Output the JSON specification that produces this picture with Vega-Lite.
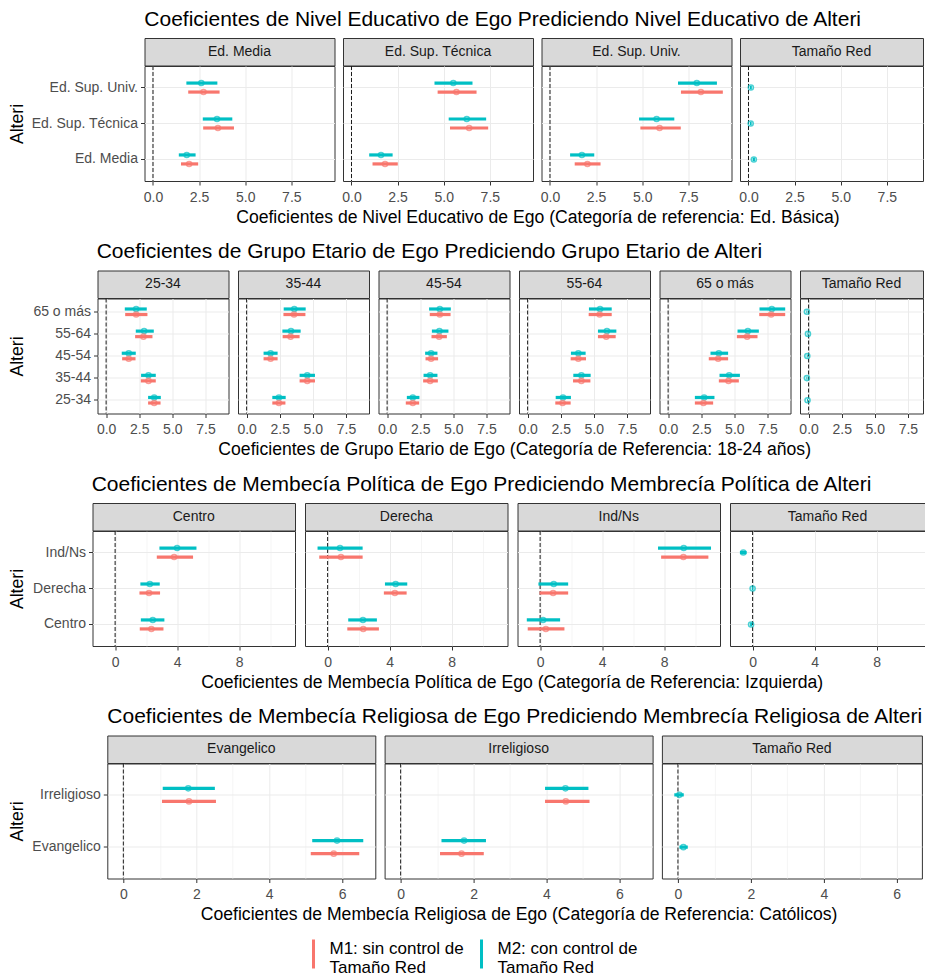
{
"$schema": "https://vega.github.io/schema/vega-lite/v6.json",
"padding": {"left": 5, "top": 8, "right": 0, "bottom": 0},
"autosize": {"type": "pad"},
"columns": 1,
"spacing": 13.5,
"resolve": {"scale": {"yOffset": "independent"}},
"datasets": {
"zero": [{"ref": 0}],
"none": [],
"s1": [
{"panel":"Ed. Media","alteri":"Ed. Sup. Univ.","model":"M2","lo":1.81,"est":2.62,"hi":3.49},
{"panel":"Ed. Media","alteri":"Ed. Sup. Univ.","model":"M1","lo":1.91,"est":2.74,"hi":3.61},
{"panel":"Ed. Media","alteri":"Ed. Sup. Técnica","model":"M2","lo":2.70,"est":3.47,"hi":4.30},
{"panel":"Ed. Media","alteri":"Ed. Sup. Técnica","model":"M1","lo":2.72,"est":3.52,"hi":4.39},
{"panel":"Ed. Media","alteri":"Ed. Media","model":"M2","lo":1.40,"est":1.83,"hi":2.31},
{"panel":"Ed. Media","alteri":"Ed. Media","model":"M1","lo":1.52,"est":1.96,"hi":2.45},
{"panel":"Ed. Sup. Técnica","alteri":"Ed. Sup. Univ.","model":"M2","lo":4.50,"est":5.52,"hi":6.56},
{"panel":"Ed. Sup. Técnica","alteri":"Ed. Sup. Univ.","model":"M1","lo":4.67,"est":5.69,"hi":6.78},
{"panel":"Ed. Sup. Técnica","alteri":"Ed. Sup. Técnica","model":"M2","lo":5.27,"est":6.25,"hi":7.30},
{"panel":"Ed. Sup. Técnica","alteri":"Ed. Sup. Técnica","model":"M1","lo":5.34,"est":6.38,"hi":7.41},
{"panel":"Ed. Sup. Técnica","alteri":"Ed. Media","model":"M2","lo":0.96,"est":1.60,"hi":2.23},
{"panel":"Ed. Sup. Técnica","alteri":"Ed. Media","model":"M1","lo":1.14,"est":1.82,"hi":2.51},
{"panel":"Ed. Sup. Univ.","alteri":"Ed. Sup. Univ.","model":"M2","lo":6.94,"est":7.96,"hi":9.05},
{"panel":"Ed. Sup. Univ.","alteri":"Ed. Sup. Univ.","model":"M1","lo":7.10,"est":8.18,"hi":9.37},
{"panel":"Ed. Sup. Univ.","alteri":"Ed. Sup. Técnica","model":"M2","lo":4.83,"est":5.78,"hi":6.74},
{"panel":"Ed. Sup. Univ.","alteri":"Ed. Sup. Técnica","model":"M1","lo":4.90,"est":5.94,"hi":7.09},
{"panel":"Ed. Sup. Univ.","alteri":"Ed. Media","model":"M2","lo":1.09,"est":1.73,"hi":2.40},
{"panel":"Ed. Sup. Univ.","alteri":"Ed. Media","model":"M1","lo":1.34,"est":2.03,"hi":2.74},
{"panel":"Tamaño Red","alteri":"Ed. Sup. Univ.","model":"M2","lo":0.08,"est":0.13,"hi":0.18},
{"panel":"Tamaño Red","alteri":"Ed. Sup. Técnica","model":"M2","lo":0.08,"est":0.12,"hi":0.17},
{"panel":"Tamaño Red","alteri":"Ed. Media","model":"M2","lo":0.23,"est":0.29,"hi":0.35}
],
"s2": [
{"panel":"25-34","alteri":"65 o más","model":"M2","lo":1.41,"est":2.27,"hi":3.07},
{"panel":"25-34","alteri":"65 o más","model":"M1","lo":1.44,"est":2.27,"hi":3.12},
{"panel":"25-34","alteri":"55-64","model":"M2","lo":2.24,"est":2.87,"hi":3.60},
{"panel":"25-34","alteri":"55-64","model":"M1","lo":2.19,"est":2.82,"hi":3.50},
{"panel":"25-34","alteri":"45-54","model":"M2","lo":1.18,"est":1.71,"hi":2.24},
{"panel":"25-34","alteri":"45-54","model":"M1","lo":1.21,"est":1.71,"hi":2.22},
{"panel":"25-34","alteri":"35-44","model":"M2","lo":2.64,"est":3.20,"hi":3.75},
{"panel":"25-34","alteri":"35-44","model":"M1","lo":2.62,"est":3.20,"hi":3.75},
{"panel":"25-34","alteri":"25-34","model":"M2","lo":3.17,"est":3.63,"hi":4.13},
{"panel":"25-34","alteri":"25-34","model":"M1","lo":3.17,"est":3.63,"hi":4.11},
{"panel":"35-44","alteri":"65 o más","model":"M2","lo":2.80,"est":3.60,"hi":4.46},
{"panel":"35-44","alteri":"65 o más","model":"M1","lo":2.78,"est":3.58,"hi":4.44},
{"panel":"35-44","alteri":"55-64","model":"M2","lo":2.70,"est":3.35,"hi":4.08},
{"panel":"35-44","alteri":"55-64","model":"M1","lo":2.72,"est":3.32,"hi":4.00},
{"panel":"35-44","alteri":"45-54","model":"M2","lo":1.28,"est":1.81,"hi":2.34},
{"panel":"35-44","alteri":"45-54","model":"M1","lo":1.28,"est":1.81,"hi":2.34},
{"panel":"35-44","alteri":"35-44","model":"M2","lo":4.00,"est":4.58,"hi":5.16},
{"panel":"35-44","alteri":"35-44","model":"M1","lo":4.00,"est":4.58,"hi":5.16},
{"panel":"35-44","alteri":"25-34","model":"M2","lo":1.94,"est":2.44,"hi":2.95},
{"panel":"35-44","alteri":"25-34","model":"M1","lo":1.94,"est":2.44,"hi":2.93},
{"panel":"45-54","alteri":"65 o más","model":"M2","lo":3.17,"est":3.98,"hi":4.81},
{"panel":"45-54","alteri":"65 o más","model":"M1","lo":3.22,"est":3.98,"hi":4.79},
{"panel":"45-54","alteri":"55-64","model":"M2","lo":3.38,"est":3.95,"hi":4.63},
{"panel":"45-54","alteri":"55-64","model":"M1","lo":3.35,"est":3.93,"hi":4.51},
{"panel":"45-54","alteri":"45-54","model":"M2","lo":2.87,"est":3.32,"hi":3.80},
{"panel":"45-54","alteri":"45-54","model":"M1","lo":2.90,"est":3.32,"hi":3.85},
{"panel":"45-54","alteri":"35-44","model":"M2","lo":2.75,"est":3.25,"hi":3.80},
{"panel":"45-54","alteri":"35-44","model":"M1","lo":2.72,"est":3.25,"hi":3.83},
{"panel":"45-54","alteri":"25-34","model":"M2","lo":1.49,"est":1.94,"hi":2.44},
{"panel":"45-54","alteri":"25-34","model":"M1","lo":1.41,"est":1.94,"hi":2.42},
{"panel":"55-64","alteri":"65 o más","model":"M2","lo":4.63,"est":5.47,"hi":6.35},
{"panel":"55-64","alteri":"65 o más","model":"M1","lo":4.61,"est":5.44,"hi":6.35},
{"panel":"55-64","alteri":"55-64","model":"M2","lo":5.31,"est":5.99,"hi":6.70},
{"panel":"55-64","alteri":"55-64","model":"M1","lo":5.31,"est":5.94,"hi":6.65},
{"panel":"55-64","alteri":"45-54","model":"M2","lo":3.27,"est":3.83,"hi":4.38},
{"panel":"55-64","alteri":"45-54","model":"M1","lo":3.25,"est":3.83,"hi":4.41},
{"panel":"55-64","alteri":"35-44","model":"M2","lo":3.45,"est":4.06,"hi":4.76},
{"panel":"55-64","alteri":"35-44","model":"M1","lo":3.43,"est":4.06,"hi":4.74},
{"panel":"55-64","alteri":"25-34","model":"M2","lo":2.12,"est":2.67,"hi":3.27},
{"panel":"55-64","alteri":"25-34","model":"M1","lo":2.09,"est":2.64,"hi":3.25},
{"panel":"65 o más","alteri":"65 o más","model":"M2","lo":6.90,"est":7.83,"hi":8.84},
{"panel":"65 o más","alteri":"65 o más","model":"M1","lo":6.88,"est":7.78,"hi":8.84},
{"panel":"65 o más","alteri":"55-64","model":"M2","lo":5.24,"est":6.02,"hi":6.85},
{"panel":"65 o más","alteri":"55-64","model":"M1","lo":5.19,"est":5.97,"hi":6.75},
{"panel":"65 o más","alteri":"45-54","model":"M2","lo":3.20,"est":3.83,"hi":4.53},
{"panel":"65 o más","alteri":"45-54","model":"M1","lo":3.07,"est":3.78,"hi":4.53},
{"panel":"65 o más","alteri":"35-44","model":"M2","lo":3.88,"est":4.61,"hi":5.42},
{"panel":"65 o más","alteri":"35-44","model":"M1","lo":3.83,"est":4.56,"hi":5.34},
{"panel":"65 o más","alteri":"25-34","model":"M2","lo":2.02,"est":2.72,"hi":3.50},
{"panel":"65 o más","alteri":"25-34","model":"M1","lo":2.02,"est":2.67,"hi":3.40},
{"panel":"Tamaño Red","alteri":"65 o más","model":"M2","lo":-0.17,"est":-0.13,"hi":-0.09},
{"panel":"Tamaño Red","alteri":"55-64","model":"M2","lo":-0.09,"est":-0.05,"hi":-0.01},
{"panel":"Tamaño Red","alteri":"45-54","model":"M2","lo":-0.14,"est":-0.10,"hi":-0.06},
{"panel":"Tamaño Red","alteri":"35-44","model":"M2","lo":-0.17,"est":-0.13,"hi":-0.09},
{"panel":"Tamaño Red","alteri":"25-34","model":"M2","lo":-0.12,"est":-0.08,"hi":-0.04}
],
"s3": [
{"panel":"Centro","alteri":"Ind/Ns","model":"M2","lo":2.86,"est":4.00,"hi":5.25},
{"panel":"Centro","alteri":"Ind/Ns","model":"M1","lo":2.69,"est":3.81,"hi":5.03},
{"panel":"Centro","alteri":"Derecha","model":"M2","lo":1.63,"est":2.24,"hi":2.88},
{"panel":"Centro","alteri":"Derecha","model":"M1","lo":1.57,"est":2.19,"hi":2.90},
{"panel":"Centro","alteri":"Centro","model":"M2","lo":1.66,"est":2.43,"hi":3.18},
{"panel":"Centro","alteri":"Centro","model":"M1","lo":1.59,"est":2.34,"hi":3.12},
{"panel":"Derecha","alteri":"Ind/Ns","model":"M2","lo":-0.65,"est":0.80,"hi":2.26},
{"panel":"Derecha","alteri":"Ind/Ns","model":"M1","lo":-0.54,"est":0.86,"hi":2.26},
{"panel":"Derecha","alteri":"Derecha","model":"M2","lo":3.70,"est":4.39,"hi":5.14},
{"panel":"Derecha","alteri":"Derecha","model":"M1","lo":3.63,"est":4.34,"hi":5.10},
{"panel":"Derecha","alteri":"Centro","model":"M2","lo":1.33,"est":2.28,"hi":3.18},
{"panel":"Derecha","alteri":"Centro","model":"M1","lo":1.27,"est":2.30,"hi":3.31},
{"panel":"Ind/Ns","alteri":"Ind/Ns","model":"M2","lo":7.61,"est":9.27,"hi":11.03},
{"panel":"Ind/Ns","alteri":"Ind/Ns","model":"M1","lo":7.81,"est":9.25,"hi":10.86},
{"panel":"Ind/Ns","alteri":"Derecha","model":"M2","lo":-0.11,"est":0.88,"hi":1.81},
{"panel":"Ind/Ns","alteri":"Derecha","model":"M1","lo":-0.04,"est":0.84,"hi":1.81},
{"panel":"Ind/Ns","alteri":"Centro","model":"M2","lo":-0.86,"est":0.19,"hi":1.29},
{"panel":"Ind/Ns","alteri":"Centro","model":"M1","lo":-0.80,"est":0.37,"hi":1.57},
{"panel":"Tamaño Red","alteri":"Ind/Ns","model":"M2","lo":-0.82,"est":-0.60,"hi":-0.39},
{"panel":"Tamaño Red","alteri":"Derecha","model":"M2","lo":-0.05,"est":0.00,"hi":0.05},
{"panel":"Tamaño Red","alteri":"Centro","model":"M2","lo":-0.16,"est":-0.10,"hi":-0.04}
],
"s4": [
{"panel":"Evangelico","alteri":"Irreligioso","model":"M2","lo":1.08,"est":1.78,"hi":2.51},
{"panel":"Evangelico","alteri":"Irreligioso","model":"M1","lo":1.06,"est":1.80,"hi":2.54},
{"panel":"Evangelico","alteri":"Evangelico","model":"M2","lo":5.18,"est":5.86,"hi":6.58},
{"panel":"Evangelico","alteri":"Evangelico","model":"M1","lo":5.14,"est":5.77,"hi":6.47},
{"panel":"Irreligioso","alteri":"Irreligioso","model":"M2","lo":3.96,"est":4.52,"hi":5.15},
{"panel":"Irreligioso","alteri":"Irreligioso","model":"M1","lo":3.96,"est":4.53,"hi":5.18},
{"panel":"Irreligioso","alteri":"Evangelico","model":"M2","lo":1.12,"est":1.74,"hi":2.34},
{"panel":"Irreligioso","alteri":"Evangelico","model":"M1","lo":1.08,"est":1.67,"hi":2.28},
{"panel":"Tamaño Red","alteri":"Irreligioso","model":"M2","lo":-0.10,"est":0.04,"hi":0.16},
{"panel":"Tamaño Red","alteri":"Evangelico","model":"M2","lo":0.04,"est":0.15,"hi":0.27}
]
},
"concat": [
{
"title": {"text": "Coeficientes de Nivel Educativo de Ego Prediciendo Nivel Educativo de Alteri", "dx": 138.3},
"columns": 5, "spacing": {"row": 0, "column": 8.5}, "bounds": "flush", "align": "each",
"resolve": {"scale": {"yOffset": "independent"}},
"concat": [
{"width":129.8,"height":27.5,"data":{"name":"none"},"mark":"point","encoding":{},"view":{"fill":"transparent","stroke":"transparent"}},
{"width":190,"height":27.5,"data":{"values":[{"panel":"Ed. Media"}]},"mark":{"type":"text","fontSize":14,"color":"#1A1A1A"},"encoding":{"text":{"field":"panel"}},"view":{"fill":"#D9D9D9","stroke":"#333333"}},
{"width":190,"height":27.5,"data":{"values":[{"panel":"Ed. Sup. Técnica"}]},"mark":{"type":"text","fontSize":14,"color":"#1A1A1A"},"encoding":{"text":{"field":"panel"}},"view":{"fill":"#D9D9D9","stroke":"#333333"}},
{"width":190,"height":27.5,"data":{"values":[{"panel":"Ed. Sup. Univ."}]},"mark":{"type":"text","fontSize":14,"color":"#1A1A1A"},"encoding":{"text":{"field":"panel"}},"view":{"fill":"#D9D9D9","stroke":"#333333"}},
{"width":183,"height":27.5,"data":{"values":[{"panel":"Tamaño Red"}]},"mark":{"type":"text","fontSize":14,"color":"#1A1A1A"},"encoding":{"text":{"field":"panel"}},"view":{"fill":"#D9D9D9","stroke":"#333333"}},
{"width":129.8,"height":115,"data":{"name":"none"},"mark":"point","encoding":{},"view":{"fill":"transparent","stroke":"transparent"}},
{"width":190,"height":115,"data":{"name":"s1"},"transform":[{"filter":{"field":"panel","equal":"Ed. Media"}}],
 "layer":[
  {"data":{"name":"zero"},"mark":{"type":"rule","strokeDash":[4,2],"color":"#1A1A1A"},"encoding":{"x":{"field":"ref","type":"quantitative","scale":{"domain":[-0.46,9.84],"nice":false,"zero":false},"axis":{"title":"Coeficientes de Nivel Educativo de Ego (Categoría de referencia: Ed. Básica)","titleX":392.9,"values":[0,1.25,2.5,3.75,5,6.25,7.5,8.75],"labelExpr":"datum.value % 2.5 == 0 ? format(datum.value, '.1f') : ''","tickOpacity":{"condition":{"test":"datum.value % 2.5 != 0","value":0},"value":1},"gridWidth":{"condition":{"test":"datum.value % 2.5 != 0","value":0.5},"value":1}}}}},
  {"encoding":{"y":{"field":"alteri","type":"nominal","scale":{"domain":["Ed. Sup. Univ.","Ed. Sup. Técnica","Ed. Media"],"paddingInner":0,"paddingOuter":0.1},"axis":{"title":"Alteri","grid":true,"bandPosition":0.5,"minExtent":114.3,"maxExtent":114.3,"labelPadding":3}},
    "yOffset":{"field":"model","type":"nominal","sort":["M2","M1"],"scale":{"paddingInner":0,"paddingOuter":1}},
    "color":{"field":"model","type":"nominal","scale":{"domain":["M1","M2"],"range":["#F8766D","#00BFC4"]},"legend":{"title":null,"orient":"none","legendX":291.5,"legendY":900,"direction":"horizontal","symbolType":"M0,-1L0,1","symbolSize":841,"symbolStrokeWidth":3,"symbolOpacity":1,"labelFontSize":17,"labelColor":"#000000","labelOffset":0,"labelLimit":300,"labelBaseline":"alphabetic","columnPadding":1,"padding":0,"labelExpr":"datum.label == 'M1' ? ['M1: sin control de', 'Tamaño Red'] : ['M2: con control de', 'Tamaño Red']"}}},
   "layer":[
    {"mark":{"type":"rule","strokeWidth":3.2},"encoding":{"x":{"field":"lo","type":"quantitative"},"x2":{"field":"hi"}}},
    {"mark":{"type":"point","filled":false,"size":26,"strokeWidth":1.5},"encoding":{"x":{"field":"est","type":"quantitative"}}}
   ]}
 ]},
{"width":190,"height":115,"data":{"name":"s1"},"transform":[{"filter":{"field":"panel","equal":"Ed. Sup. Técnica"}}],
 "layer":[
  {"data":{"name":"zero"},"mark":{"type":"rule","strokeDash":[4,2],"color":"#1A1A1A"},"encoding":{"x":{"field":"ref","type":"quantitative","scale":{"domain":[-0.46,9.84],"nice":false,"zero":false},"axis":{"title":null,"values":[0,1.25,2.5,3.75,5,6.25,7.5,8.75],"labelExpr":"datum.value % 2.5 == 0 ? format(datum.value, '.1f') : ''","tickOpacity":{"condition":{"test":"datum.value % 2.5 != 0","value":0},"value":1},"gridWidth":{"condition":{"test":"datum.value % 2.5 != 0","value":0.5},"value":1}}}}},
  {"encoding":{"y":{"field":"alteri","type":"nominal","scale":{"domain":["Ed. Sup. Univ.","Ed. Sup. Técnica","Ed. Media"],"paddingInner":0,"paddingOuter":0.1},"axis":{"title":null,"labels":false,"ticks":false,"grid":true,"bandPosition":0.5}},
    "yOffset":{"field":"model","type":"nominal","sort":["M2","M1"],"scale":{"paddingInner":0,"paddingOuter":1}},
    "color":{"field":"model","type":"nominal","scale":{"domain":["M1","M2"],"range":["#F8766D","#00BFC4"]}}},
   "layer":[
    {"mark":{"type":"rule","strokeWidth":3.2},"encoding":{"x":{"field":"lo","type":"quantitative"},"x2":{"field":"hi"}}},
    {"mark":{"type":"point","filled":false,"size":26,"strokeWidth":1.5},"encoding":{"x":{"field":"est","type":"quantitative"}}}
   ]}
 ]},
{"width":190,"height":115,"data":{"name":"s1"},"transform":[{"filter":{"field":"panel","equal":"Ed. Sup. Univ."}}],
 "layer":[
  {"data":{"name":"zero"},"mark":{"type":"rule","strokeDash":[4,2],"color":"#1A1A1A"},"encoding":{"x":{"field":"ref","type":"quantitative","scale":{"domain":[-0.46,9.84],"nice":false,"zero":false},"axis":{"title":null,"values":[0,1.25,2.5,3.75,5,6.25,7.5,8.75],"labelExpr":"datum.value % 2.5 == 0 ? format(datum.value, '.1f') : ''","tickOpacity":{"condition":{"test":"datum.value % 2.5 != 0","value":0},"value":1},"gridWidth":{"condition":{"test":"datum.value % 2.5 != 0","value":0.5},"value":1}}}}},
  {"encoding":{"y":{"field":"alteri","type":"nominal","scale":{"domain":["Ed. Sup. Univ.","Ed. Sup. Técnica","Ed. Media"],"paddingInner":0,"paddingOuter":0.1},"axis":{"title":null,"labels":false,"ticks":false,"grid":true,"bandPosition":0.5}},
    "yOffset":{"field":"model","type":"nominal","sort":["M2","M1"],"scale":{"paddingInner":0,"paddingOuter":1}},
    "color":{"field":"model","type":"nominal","scale":{"domain":["M1","M2"],"range":["#F8766D","#00BFC4"]}}},
   "layer":[
    {"mark":{"type":"rule","strokeWidth":3.2},"encoding":{"x":{"field":"lo","type":"quantitative"},"x2":{"field":"hi"}}},
    {"mark":{"type":"point","filled":false,"size":26,"strokeWidth":1.5},"encoding":{"x":{"field":"est","type":"quantitative"}}}
   ]}
 ]},
{"width":183,"height":115,"data":{"name":"s1"},"transform":[{"filter":{"field":"panel","equal":"Tamaño Red"}}],
 "layer":[
  {"data":{"name":"zero"},"mark":{"type":"rule","strokeDash":[4,2],"color":"#1A1A1A"},"encoding":{"x":{"field":"ref","type":"quantitative","scale":{"domain":[-0.46,9.46],"nice":false,"zero":false},"axis":{"title":null,"values":[0,1.25,2.5,3.75,5,6.25,7.5,8.75],"labelExpr":"datum.value % 2.5 == 0 ? format(datum.value, '.1f') : ''","tickOpacity":{"condition":{"test":"datum.value % 2.5 != 0","value":0},"value":1},"gridWidth":{"condition":{"test":"datum.value % 2.5 != 0","value":0.5},"value":1}}}}},
  {"encoding":{"y":{"field":"alteri","type":"nominal","scale":{"domain":["Ed. Sup. Univ.","Ed. Sup. Técnica","Ed. Media"],"paddingInner":0,"paddingOuter":0.1},"axis":{"title":null,"labels":false,"ticks":false,"grid":true,"bandPosition":0.5}},
    "yOffset":{"field":"model","type":"nominal","sort":["M2","M1"],"scale":{"paddingInner":0,"paddingOuter":1}},
    "color":{"field":"model","type":"nominal","scale":{"domain":["M1","M2"],"range":["#F8766D","#00BFC4"]}}},
   "layer":[
    {"mark":{"type":"rule","strokeWidth":3.2},"encoding":{"x":{"field":"lo","type":"quantitative"},"x2":{"field":"hi"}}},
    {"mark":{"type":"point","filled":false,"size":26,"strokeWidth":1.5},"encoding":{"x":{"field":"est","type":"quantitative"}}}
   ]}
 ]}
]
},
{
"title": {"text": "Coeficientes de Grupo Etario de Ego Prediciendo Grupo Etario de Alteri", "dx": 90.7},
"columns": 7, "spacing": {"row": 0, "column": 9.5}, "bounds": "flush", "align": "each",
"resolve": {"scale": {"yOffset": "independent"}},
"concat": [
{"width":81.2,"height":27.5,"data":{"name":"none"},"mark":"point","encoding":{},"view":{"fill":"transparent","stroke":"transparent"}},
{"width":131,"height":27.5,"data":{"values":[{"panel":"25-34"}]},"mark":{"type":"text","fontSize":14,"color":"#1A1A1A"},"encoding":{"text":{"field":"panel"}},"view":{"fill":"#D9D9D9","stroke":"#333333"}},
{"width":131,"height":27.5,"data":{"values":[{"panel":"35-44"}]},"mark":{"type":"text","fontSize":14,"color":"#1A1A1A"},"encoding":{"text":{"field":"panel"}},"view":{"fill":"#D9D9D9","stroke":"#333333"}},
{"width":131,"height":27.5,"data":{"values":[{"panel":"45-54"}]},"mark":{"type":"text","fontSize":14,"color":"#1A1A1A"},"encoding":{"text":{"field":"panel"}},"view":{"fill":"#D9D9D9","stroke":"#333333"}},
{"width":131,"height":27.5,"data":{"values":[{"panel":"55-64"}]},"mark":{"type":"text","fontSize":14,"color":"#1A1A1A"},"encoding":{"text":{"field":"panel"}},"view":{"fill":"#D9D9D9","stroke":"#333333"}},
{"width":131,"height":27.5,"data":{"values":[{"panel":"65 o más"}]},"mark":{"type":"text","fontSize":14,"color":"#1A1A1A"},"encoding":{"text":{"field":"panel"}},"view":{"fill":"#D9D9D9","stroke":"#333333"}},
{"width":123,"height":27.5,"data":{"values":[{"panel":"Tamaño Red"}]},"mark":{"type":"text","fontSize":14,"color":"#1A1A1A"},"encoding":{"text":{"field":"panel"}},"view":{"fill":"#D9D9D9","stroke":"#333333"}},
{"width":81.2,"height":115,"data":{"name":"none"},"mark":"point","encoding":{},"view":{"fill":"transparent","stroke":"transparent"}},
{"width":131,"height":115,"data":{"name":"s2"},"transform":[{"filter":{"field":"panel","equal":"25-34"}}],
 "layer":[
  {"data":{"name":"zero"},"mark":{"type":"rule","strokeDash":[4,2],"color":"#1A1A1A"},"encoding":{"x":{"field":"ref","type":"quantitative","scale":{"domain":[-0.65,9.24],"nice":false,"zero":false},"axis":{"title":"Coeficientes de Grupo Etario de Ego (Categoría de Referencia: 18-24 años)","titleX":416.7,"values":[0,1.25,2.5,3.75,5,6.25,7.5,8.75],"labelExpr":"datum.value % 2.5 == 0 ? format(datum.value, '.1f') : ''","tickOpacity":{"condition":{"test":"datum.value % 2.5 != 0","value":0},"value":1},"gridWidth":{"condition":{"test":"datum.value % 2.5 != 0","value":0.5},"value":1}}}}},
  {"encoding":{"y":{"field":"alteri","type":"nominal","scale":{"domain":["65 o más","55-64","45-54","35-44","25-34"],"paddingInner":0,"paddingOuter":0.1},"axis":{"title":"Alteri","grid":true,"bandPosition":0.5,"minExtent":66.7,"maxExtent":66.7,"labelPadding":3}},
    "yOffset":{"field":"model","type":"nominal","sort":["M2","M1"],"scale":{"paddingInner":0,"paddingOuter":1}},
    "color":{"field":"model","type":"nominal","scale":{"domain":["M1","M2"],"range":["#F8766D","#00BFC4"]}}},
   "layer":[
    {"mark":{"type":"rule","strokeWidth":3.2},"encoding":{"x":{"field":"lo","type":"quantitative"},"x2":{"field":"hi"}}},
    {"mark":{"type":"point","filled":false,"size":26,"strokeWidth":1.5},"encoding":{"x":{"field":"est","type":"quantitative"}}}
   ]}
 ]},
{"width":131,"height":115,"data":{"name":"s2"},"transform":[{"filter":{"field":"panel","equal":"35-44"}}],
 "layer":[
  {"data":{"name":"zero"},"mark":{"type":"rule","strokeDash":[4,2],"color":"#1A1A1A"},"encoding":{"x":{"field":"ref","type":"quantitative","scale":{"domain":[-0.65,9.24],"nice":false,"zero":false},"axis":{"title":null,"values":[0,1.25,2.5,3.75,5,6.25,7.5,8.75],"labelExpr":"datum.value % 2.5 == 0 ? format(datum.value, '.1f') : ''","tickOpacity":{"condition":{"test":"datum.value % 2.5 != 0","value":0},"value":1},"gridWidth":{"condition":{"test":"datum.value % 2.5 != 0","value":0.5},"value":1}}}}},
  {"encoding":{"y":{"field":"alteri","type":"nominal","scale":{"domain":["65 o más","55-64","45-54","35-44","25-34"],"paddingInner":0,"paddingOuter":0.1},"axis":{"title":null,"labels":false,"ticks":false,"grid":true,"bandPosition":0.5}},
    "yOffset":{"field":"model","type":"nominal","sort":["M2","M1"],"scale":{"paddingInner":0,"paddingOuter":1}},
    "color":{"field":"model","type":"nominal","scale":{"domain":["M1","M2"],"range":["#F8766D","#00BFC4"]}}},
   "layer":[
    {"mark":{"type":"rule","strokeWidth":3.2},"encoding":{"x":{"field":"lo","type":"quantitative"},"x2":{"field":"hi"}}},
    {"mark":{"type":"point","filled":false,"size":26,"strokeWidth":1.5},"encoding":{"x":{"field":"est","type":"quantitative"}}}
   ]}
 ]},
{"width":131,"height":115,"data":{"name":"s2"},"transform":[{"filter":{"field":"panel","equal":"45-54"}}],
 "layer":[
  {"data":{"name":"zero"},"mark":{"type":"rule","strokeDash":[4,2],"color":"#1A1A1A"},"encoding":{"x":{"field":"ref","type":"quantitative","scale":{"domain":[-0.65,9.24],"nice":false,"zero":false},"axis":{"title":null,"values":[0,1.25,2.5,3.75,5,6.25,7.5,8.75],"labelExpr":"datum.value % 2.5 == 0 ? format(datum.value, '.1f') : ''","tickOpacity":{"condition":{"test":"datum.value % 2.5 != 0","value":0},"value":1},"gridWidth":{"condition":{"test":"datum.value % 2.5 != 0","value":0.5},"value":1}}}}},
  {"encoding":{"y":{"field":"alteri","type":"nominal","scale":{"domain":["65 o más","55-64","45-54","35-44","25-34"],"paddingInner":0,"paddingOuter":0.1},"axis":{"title":null,"labels":false,"ticks":false,"grid":true,"bandPosition":0.5}},
    "yOffset":{"field":"model","type":"nominal","sort":["M2","M1"],"scale":{"paddingInner":0,"paddingOuter":1}},
    "color":{"field":"model","type":"nominal","scale":{"domain":["M1","M2"],"range":["#F8766D","#00BFC4"]}}},
   "layer":[
    {"mark":{"type":"rule","strokeWidth":3.2},"encoding":{"x":{"field":"lo","type":"quantitative"},"x2":{"field":"hi"}}},
    {"mark":{"type":"point","filled":false,"size":26,"strokeWidth":1.5},"encoding":{"x":{"field":"est","type":"quantitative"}}}
   ]}
 ]},
{"width":131,"height":115,"data":{"name":"s2"},"transform":[{"filter":{"field":"panel","equal":"55-64"}}],
 "layer":[
  {"data":{"name":"zero"},"mark":{"type":"rule","strokeDash":[4,2],"color":"#1A1A1A"},"encoding":{"x":{"field":"ref","type":"quantitative","scale":{"domain":[-0.65,9.24],"nice":false,"zero":false},"axis":{"title":null,"values":[0,1.25,2.5,3.75,5,6.25,7.5,8.75],"labelExpr":"datum.value % 2.5 == 0 ? format(datum.value, '.1f') : ''","tickOpacity":{"condition":{"test":"datum.value % 2.5 != 0","value":0},"value":1},"gridWidth":{"condition":{"test":"datum.value % 2.5 != 0","value":0.5},"value":1}}}}},
  {"encoding":{"y":{"field":"alteri","type":"nominal","scale":{"domain":["65 o más","55-64","45-54","35-44","25-34"],"paddingInner":0,"paddingOuter":0.1},"axis":{"title":null,"labels":false,"ticks":false,"grid":true,"bandPosition":0.5}},
    "yOffset":{"field":"model","type":"nominal","sort":["M2","M1"],"scale":{"paddingInner":0,"paddingOuter":1}},
    "color":{"field":"model","type":"nominal","scale":{"domain":["M1","M2"],"range":["#F8766D","#00BFC4"]}}},
   "layer":[
    {"mark":{"type":"rule","strokeWidth":3.2},"encoding":{"x":{"field":"lo","type":"quantitative"},"x2":{"field":"hi"}}},
    {"mark":{"type":"point","filled":false,"size":26,"strokeWidth":1.5},"encoding":{"x":{"field":"est","type":"quantitative"}}}
   ]}
 ]},
{"width":131,"height":115,"data":{"name":"s2"},"transform":[{"filter":{"field":"panel","equal":"65 o más"}}],
 "layer":[
  {"data":{"name":"zero"},"mark":{"type":"rule","strokeDash":[4,2],"color":"#1A1A1A"},"encoding":{"x":{"field":"ref","type":"quantitative","scale":{"domain":[-0.65,9.24],"nice":false,"zero":false},"axis":{"title":null,"values":[0,1.25,2.5,3.75,5,6.25,7.5,8.75],"labelExpr":"datum.value % 2.5 == 0 ? format(datum.value, '.1f') : ''","tickOpacity":{"condition":{"test":"datum.value % 2.5 != 0","value":0},"value":1},"gridWidth":{"condition":{"test":"datum.value % 2.5 != 0","value":0.5},"value":1}}}}},
  {"encoding":{"y":{"field":"alteri","type":"nominal","scale":{"domain":["65 o más","55-64","45-54","35-44","25-34"],"paddingInner":0,"paddingOuter":0.1},"axis":{"title":null,"labels":false,"ticks":false,"grid":true,"bandPosition":0.5}},
    "yOffset":{"field":"model","type":"nominal","sort":["M2","M1"],"scale":{"paddingInner":0,"paddingOuter":1}},
    "color":{"field":"model","type":"nominal","scale":{"domain":["M1","M2"],"range":["#F8766D","#00BFC4"]}}},
   "layer":[
    {"mark":{"type":"rule","strokeWidth":3.2},"encoding":{"x":{"field":"lo","type":"quantitative"},"x2":{"field":"hi"}}},
    {"mark":{"type":"point","filled":false,"size":26,"strokeWidth":1.5},"encoding":{"x":{"field":"est","type":"quantitative"}}}
   ]}
 ]},
{"width":123,"height":115,"data":{"name":"s2"},"transform":[{"filter":{"field":"panel","equal":"Tamaño Red"}}],
 "layer":[
  {"data":{"name":"zero"},"mark":{"type":"rule","strokeDash":[4,2],"color":"#1A1A1A"},"encoding":{"x":{"field":"ref","type":"quantitative","scale":{"domain":[-0.65,8.64],"nice":false,"zero":false},"axis":{"title":null,"values":[0,1.25,2.5,3.75,5,6.25,7.5],"labelExpr":"datum.value % 2.5 == 0 ? format(datum.value, '.1f') : ''","tickOpacity":{"condition":{"test":"datum.value % 2.5 != 0","value":0},"value":1},"gridWidth":{"condition":{"test":"datum.value % 2.5 != 0","value":0.5},"value":1}}}}},
  {"encoding":{"y":{"field":"alteri","type":"nominal","scale":{"domain":["65 o más","55-64","45-54","35-44","25-34"],"paddingInner":0,"paddingOuter":0.1},"axis":{"title":null,"labels":false,"ticks":false,"grid":true,"bandPosition":0.5}},
    "yOffset":{"field":"model","type":"nominal","sort":["M2","M1"],"scale":{"paddingInner":0,"paddingOuter":1}},
    "color":{"field":"model","type":"nominal","scale":{"domain":["M1","M2"],"range":["#F8766D","#00BFC4"]}}},
   "layer":[
    {"mark":{"type":"rule","strokeWidth":3.2},"encoding":{"x":{"field":"lo","type":"quantitative"},"x2":{"field":"hi"}}},
    {"mark":{"type":"point","filled":false,"size":26,"strokeWidth":1.5},"encoding":{"x":{"field":"est","type":"quantitative"}}}
   ]}
 ]}
]
},
{
"title": {"text": "Coeficientes de Membecía Política de Ego Prediciendo Membrecía Política de Alteri", "dx": 85.7},
"columns": 5, "spacing": {"row": 0, "column": 9.5}, "bounds": "flush", "align": "each",
"resolve": {"scale": {"yOffset": "independent"}},
"concat": [
{"width":76.2,"height":27.5,"data":{"name":"none"},"mark":"point","encoding":{},"view":{"fill":"transparent","stroke":"transparent"}},
{"width":202.5,"height":27.5,"data":{"values":[{"panel":"Centro"}]},"mark":{"type":"text","fontSize":14,"color":"#1A1A1A"},"encoding":{"text":{"field":"panel"}},"view":{"fill":"#D9D9D9","stroke":"#333333"}},
{"width":202.5,"height":27.5,"data":{"values":[{"panel":"Derecha"}]},"mark":{"type":"text","fontSize":14,"color":"#1A1A1A"},"encoding":{"text":{"field":"panel"}},"view":{"fill":"#D9D9D9","stroke":"#333333"}},
{"width":202.5,"height":27.5,"data":{"values":[{"panel":"Ind/Ns"}]},"mark":{"type":"text","fontSize":14,"color":"#1A1A1A"},"encoding":{"text":{"field":"panel"}},"view":{"fill":"#D9D9D9","stroke":"#333333"}},
{"width":195,"height":27.5,"data":{"values":[{"panel":"Tamaño Red"}]},"mark":{"type":"text","fontSize":14,"color":"#1A1A1A"},"encoding":{"text":{"field":"panel"}},"view":{"fill":"#D9D9D9","stroke":"#333333"}},
{"width":76.2,"height":115,"data":{"name":"none"},"mark":"point","encoding":{},"view":{"fill":"transparent","stroke":"transparent"}},
{"width":202.5,"height":115,"data":{"name":"s3"},"transform":[{"filter":{"field":"panel","equal":"Centro"}}],
 "layer":[
  {"data":{"name":"zero"},"mark":{"type":"rule","strokeDash":[4,2],"color":"#1A1A1A"},"encoding":{"x":{"field":"ref","type":"quantitative","scale":{"domain":[-1.46,11.61],"nice":false,"zero":false},"axis":{"title":"Coeficientes de Membecía Política de Ego (Categoría de Referencia: Izquierda)","titleX":419.2,"values":[0,2,4,6,8,10],"labelExpr":"datum.value % 4 == 0 ? format(datum.value, 'd') : ''","tickOpacity":{"condition":{"test":"datum.value % 4 != 0","value":0},"value":1},"gridWidth":{"condition":{"test":"datum.value % 4 != 0","value":0.5},"value":1}}}}},
  {"encoding":{"y":{"field":"alteri","type":"nominal","scale":{"domain":["Ind/Ns","Derecha","Centro"],"paddingInner":0,"paddingOuter":0.1},"axis":{"title":"Alteri","grid":true,"bandPosition":0.5,"minExtent":61.7,"maxExtent":61.7,"labelPadding":3}},
    "yOffset":{"field":"model","type":"nominal","sort":["M2","M1"],"scale":{"paddingInner":0,"paddingOuter":1}},
    "color":{"field":"model","type":"nominal","scale":{"domain":["M1","M2"],"range":["#F8766D","#00BFC4"]}}},
   "layer":[
    {"mark":{"type":"rule","strokeWidth":3.2},"encoding":{"x":{"field":"lo","type":"quantitative"},"x2":{"field":"hi"}}},
    {"mark":{"type":"point","filled":false,"size":26,"strokeWidth":1.5},"encoding":{"x":{"field":"est","type":"quantitative"}}}
   ]}
 ]},
{"width":202.5,"height":115,"data":{"name":"s3"},"transform":[{"filter":{"field":"panel","equal":"Derecha"}}],
 "layer":[
  {"data":{"name":"zero"},"mark":{"type":"rule","strokeDash":[4,2],"color":"#1A1A1A"},"encoding":{"x":{"field":"ref","type":"quantitative","scale":{"domain":[-1.46,11.61],"nice":false,"zero":false},"axis":{"title":null,"values":[0,2,4,6,8,10],"labelExpr":"datum.value % 4 == 0 ? format(datum.value, 'd') : ''","tickOpacity":{"condition":{"test":"datum.value % 4 != 0","value":0},"value":1},"gridWidth":{"condition":{"test":"datum.value % 4 != 0","value":0.5},"value":1}}}}},
  {"encoding":{"y":{"field":"alteri","type":"nominal","scale":{"domain":["Ind/Ns","Derecha","Centro"],"paddingInner":0,"paddingOuter":0.1},"axis":{"title":null,"labels":false,"ticks":false,"grid":true,"bandPosition":0.5}},
    "yOffset":{"field":"model","type":"nominal","sort":["M2","M1"],"scale":{"paddingInner":0,"paddingOuter":1}},
    "color":{"field":"model","type":"nominal","scale":{"domain":["M1","M2"],"range":["#F8766D","#00BFC4"]}}},
   "layer":[
    {"mark":{"type":"rule","strokeWidth":3.2},"encoding":{"x":{"field":"lo","type":"quantitative"},"x2":{"field":"hi"}}},
    {"mark":{"type":"point","filled":false,"size":26,"strokeWidth":1.5},"encoding":{"x":{"field":"est","type":"quantitative"}}}
   ]}
 ]},
{"width":202.5,"height":115,"data":{"name":"s3"},"transform":[{"filter":{"field":"panel","equal":"Ind/Ns"}}],
 "layer":[
  {"data":{"name":"zero"},"mark":{"type":"rule","strokeDash":[4,2],"color":"#1A1A1A"},"encoding":{"x":{"field":"ref","type":"quantitative","scale":{"domain":[-1.46,11.61],"nice":false,"zero":false},"axis":{"title":null,"values":[0,2,4,6,8,10],"labelExpr":"datum.value % 4 == 0 ? format(datum.value, 'd') : ''","tickOpacity":{"condition":{"test":"datum.value % 4 != 0","value":0},"value":1},"gridWidth":{"condition":{"test":"datum.value % 4 != 0","value":0.5},"value":1}}}}},
  {"encoding":{"y":{"field":"alteri","type":"nominal","scale":{"domain":["Ind/Ns","Derecha","Centro"],"paddingInner":0,"paddingOuter":0.1},"axis":{"title":null,"labels":false,"ticks":false,"grid":true,"bandPosition":0.5}},
    "yOffset":{"field":"model","type":"nominal","sort":["M2","M1"],"scale":{"paddingInner":0,"paddingOuter":1}},
    "color":{"field":"model","type":"nominal","scale":{"domain":["M1","M2"],"range":["#F8766D","#00BFC4"]}}},
   "layer":[
    {"mark":{"type":"rule","strokeWidth":3.2},"encoding":{"x":{"field":"lo","type":"quantitative"},"x2":{"field":"hi"}}},
    {"mark":{"type":"point","filled":false,"size":26,"strokeWidth":1.5},"encoding":{"x":{"field":"est","type":"quantitative"}}}
   ]}
 ]},
{"width":195,"height":115,"data":{"name":"s3"},"transform":[{"filter":{"field":"panel","equal":"Tamaño Red"}}],
 "layer":[
  {"data":{"name":"zero"},"mark":{"type":"rule","strokeDash":[4,2],"color":"#1A1A1A"},"encoding":{"x":{"field":"ref","type":"quantitative","scale":{"domain":[-1.46,11.13],"nice":false,"zero":false},"axis":{"title":null,"values":[0,2,4,6,8,10],"labelExpr":"datum.value % 4 == 0 ? format(datum.value, 'd') : ''","tickOpacity":{"condition":{"test":"datum.value % 4 != 0","value":0},"value":1},"gridWidth":{"condition":{"test":"datum.value % 4 != 0","value":0.5},"value":1}}}}},
  {"encoding":{"y":{"field":"alteri","type":"nominal","scale":{"domain":["Ind/Ns","Derecha","Centro"],"paddingInner":0,"paddingOuter":0.1},"axis":{"title":null,"labels":false,"ticks":false,"grid":true,"bandPosition":0.5}},
    "yOffset":{"field":"model","type":"nominal","sort":["M2","M1"],"scale":{"paddingInner":0,"paddingOuter":1}},
    "color":{"field":"model","type":"nominal","scale":{"domain":["M1","M2"],"range":["#F8766D","#00BFC4"]}}},
   "layer":[
    {"mark":{"type":"rule","strokeWidth":3.2},"encoding":{"x":{"field":"lo","type":"quantitative"},"x2":{"field":"hi"}}},
    {"mark":{"type":"point","filled":false,"size":26,"strokeWidth":1.5},"encoding":{"x":{"field":"est","type":"quantitative"}}}
   ]}
 ]}
]
},
{
"title": {"text": "Coeficientes de Membecía Religiosa de Ego Prediciendo Membrecía Religiosa de Alteri", "dx": 101.3},
"columns": 4, "spacing": {"row": 0, "column": 9.3}, "bounds": "flush", "align": "each",
"resolve": {"scale": {"yOffset": "independent"}},
"concat": [
{"width":92,"height":27.5,"data":{"name":"none"},"mark":"point","encoding":{},"view":{"fill":"transparent","stroke":"transparent"}},
{"width":268,"height":27.5,"data":{"values":[{"panel":"Evangelico"}]},"mark":{"type":"text","fontSize":14,"color":"#1A1A1A"},"encoding":{"text":{"field":"panel"}},"view":{"fill":"#D9D9D9","stroke":"#333333"}},
{"width":268,"height":27.5,"data":{"values":[{"panel":"Irreligioso"}]},"mark":{"type":"text","fontSize":14,"color":"#1A1A1A"},"encoding":{"text":{"field":"panel"}},"view":{"fill":"#D9D9D9","stroke":"#333333"}},
{"width":260,"height":27.5,"data":{"values":[{"panel":"Tamaño Red"}]},"mark":{"type":"text","fontSize":14,"color":"#1A1A1A"},"encoding":{"text":{"field":"panel"}},"view":{"fill":"#D9D9D9","stroke":"#333333"}},
{"width":92,"height":115,"data":{"name":"none"},"mark":"point","encoding":{},"view":{"fill":"transparent","stroke":"transparent"}},
{"width":268,"height":115,"data":{"name":"s4"},"transform":[{"filter":{"field":"panel","equal":"Evangelico"}}],
 "layer":[
  {"data":{"name":"zero"},"mark":{"type":"rule","strokeDash":[4,2],"color":"#1A1A1A"},"encoding":{"x":{"field":"ref","type":"quantitative","scale":{"domain":[-0.44,6.91],"nice":false,"zero":false},"axis":{"title":"Coeficientes de Membecía Religiosa de Ego (Categoría de Referencia: Católicos)","titleX":411.3,"values":[0,1,2,3,4,5,6],"labelExpr":"datum.value % 2 == 0 ? format(datum.value, 'd') : ''","tickOpacity":{"condition":{"test":"datum.value % 2 != 0","value":0},"value":1},"gridWidth":{"condition":{"test":"datum.value % 2 != 0","value":0.5},"value":1}}}}},
  {"encoding":{"y":{"field":"alteri","type":"nominal","scale":{"domain":["Irreligioso","Evangelico"],"paddingInner":0,"paddingOuter":0.1},"axis":{"title":"Alteri","grid":true,"bandPosition":0.5,"minExtent":77.3,"maxExtent":77.3,"labelPadding":3}},
    "yOffset":{"field":"model","type":"nominal","sort":["M2","M1"],"scale":{"paddingInner":0,"paddingOuter":1}},
    "color":{"field":"model","type":"nominal","scale":{"domain":["M1","M2"],"range":["#F8766D","#00BFC4"]}}},
   "layer":[
    {"mark":{"type":"rule","strokeWidth":3.2},"encoding":{"x":{"field":"lo","type":"quantitative"},"x2":{"field":"hi"}}},
    {"mark":{"type":"point","filled":false,"size":26,"strokeWidth":1.5},"encoding":{"x":{"field":"est","type":"quantitative"}}}
   ]}
 ]},
{"width":268,"height":115,"data":{"name":"s4"},"transform":[{"filter":{"field":"panel","equal":"Irreligioso"}}],
 "layer":[
  {"data":{"name":"zero"},"mark":{"type":"rule","strokeDash":[4,2],"color":"#1A1A1A"},"encoding":{"x":{"field":"ref","type":"quantitative","scale":{"domain":[-0.44,6.91],"nice":false,"zero":false},"axis":{"title":null,"values":[0,1,2,3,4,5,6],"labelExpr":"datum.value % 2 == 0 ? format(datum.value, 'd') : ''","tickOpacity":{"condition":{"test":"datum.value % 2 != 0","value":0},"value":1},"gridWidth":{"condition":{"test":"datum.value % 2 != 0","value":0.5},"value":1}}}}},
  {"encoding":{"y":{"field":"alteri","type":"nominal","scale":{"domain":["Irreligioso","Evangelico"],"paddingInner":0,"paddingOuter":0.1},"axis":{"title":null,"labels":false,"ticks":false,"grid":true,"bandPosition":0.5}},
    "yOffset":{"field":"model","type":"nominal","sort":["M2","M1"],"scale":{"paddingInner":0,"paddingOuter":1}},
    "color":{"field":"model","type":"nominal","scale":{"domain":["M1","M2"],"range":["#F8766D","#00BFC4"]}}},
   "layer":[
    {"mark":{"type":"rule","strokeWidth":3.2},"encoding":{"x":{"field":"lo","type":"quantitative"},"x2":{"field":"hi"}}},
    {"mark":{"type":"point","filled":false,"size":26,"strokeWidth":1.5},"encoding":{"x":{"field":"est","type":"quantitative"}}}
   ]}
 ]},
{"width":260,"height":115,"data":{"name":"s4"},"transform":[{"filter":{"field":"panel","equal":"Tamaño Red"}}],
 "layer":[
  {"data":{"name":"zero"},"mark":{"type":"rule","strokeDash":[4,2],"color":"#1A1A1A"},"encoding":{"x":{"field":"ref","type":"quantitative","scale":{"domain":[-0.44,6.69],"nice":false,"zero":false},"axis":{"title":null,"values":[0,1,2,3,4,5,6],"labelExpr":"datum.value % 2 == 0 ? format(datum.value, 'd') : ''","tickOpacity":{"condition":{"test":"datum.value % 2 != 0","value":0},"value":1},"gridWidth":{"condition":{"test":"datum.value % 2 != 0","value":0.5},"value":1}}}}},
  {"encoding":{"y":{"field":"alteri","type":"nominal","scale":{"domain":["Irreligioso","Evangelico"],"paddingInner":0,"paddingOuter":0.1},"axis":{"title":null,"labels":false,"ticks":false,"grid":true,"bandPosition":0.5}},
    "yOffset":{"field":"model","type":"nominal","sort":["M2","M1"],"scale":{"paddingInner":0,"paddingOuter":1}},
    "color":{"field":"model","type":"nominal","scale":{"domain":["M1","M2"],"range":["#F8766D","#00BFC4"]}}},
   "layer":[
    {"mark":{"type":"rule","strokeWidth":3.2},"encoding":{"x":{"field":"lo","type":"quantitative"},"x2":{"field":"hi"}}},
    {"mark":{"type":"point","filled":false,"size":26,"strokeWidth":1.5},"encoding":{"x":{"field":"est","type":"quantitative"}}}
   ]}
 ]}
]
}
],
"config": {
 "font": "Liberation Sans",
 "view": {"stroke": "#333333", "strokeWidth": 1, "fill": "#FFFFFF"},
 "axis": {"labelFontSize": 14, "labelColor": "#4D4D4D", "tickColor": "#333333", "tickSize": 4, "tickWidth": 1, "labelPadding": 2, "domain": false, "gridColor": "#EBEBEB", "gridWidth": 1, "titleFontSize": 17.6, "titleFontWeight": "normal", "titleColor": "#000000", "titlePadding": 4},
 "axisX": {"labelFlush": false, "labelOverlap": false, "labelPadding": 5},
 "title": {"fontSize": 21, "fontWeight": "normal", "color": "#000000", "anchor": "start", "frame": "group", "offset": 8}
}
}
